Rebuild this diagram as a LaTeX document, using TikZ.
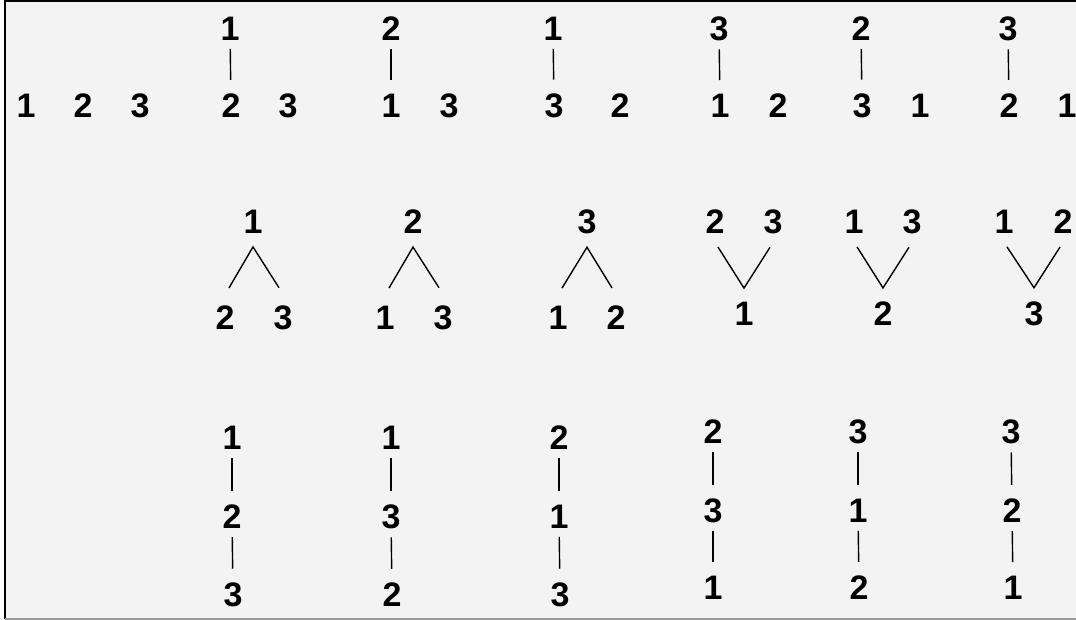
\documentclass[tikz,border=0pt]{standalone}
\usepackage{fontspec}
\setmainfont{Liberation Sans}
\usepackage{xcolor}
\definecolor{paper}{HTML}{F3F3F3}
\tikzset{
  num/.style  ={font=\fontsize{34}{34}\selectfont\bfseries, inner sep=0pt},
  lnk/.style  ={line width=1.4pt, shorten <=8pt, shorten >=14pt},
  fork/.style ={line width=1.4pt, line join=miter},
  frame/.style={line width=2pt},
}

\begin{document}
\begin{tikzpicture}[x=1pt, y=-1pt]
  \useasboundingbox (0,0) rectangle (1076,620);
  \fill[paper] (5,1.5) rectangle (1076,618);
  \draw[frame] (5,619) -- (5,1.5) -- (1076,1.5);
  \draw[frame, black!40] (5,618.5) -- (1076,618.5);

  \node[num] (a1) at (26,106) {1};
  \node[num] (a2) at (83,106) {2};
  \node[num] (a3) at (140,106) {3};

  \node[num] (p2t) at (230,29) {1};
  \node[num] (p2b) at (231,106) {2};
  \node[num] (p2s) at (288,106) {3};
  \draw[lnk] (p2t) -- (p2b);
  \node[num] (p3t) at (391,29) {2};
  \node[num] (p3b) at (391,106) {1};
  \node[num] (p3s) at (449,106) {3};
  \draw[lnk] (p3t) -- (p3b);
  \node[num] (p4t) at (553,29) {1};
  \node[num] (p4b) at (554,106) {3};
  \node[num] (p4s) at (620,106) {2};
  \draw[lnk] (p4t) -- (p4b);
  \node[num] (p5t) at (719,29) {3};
  \node[num] (p5b) at (720,106) {1};
  \node[num] (p5s) at (778,106) {2};
  \draw[lnk] (p5t) -- (p5b);
  \node[num] (p6t) at (861,29) {2};
  \node[num] (p6b) at (862,106) {3};
  \node[num] (p6s) at (920,106) {1};
  \draw[lnk] (p6t) -- (p6b);
  \node[num] (p7t) at (1008,29) {3};
  \node[num] (p7b) at (1009,106) {2};
  \node[num] (p7s) at (1067,106) {1};
  \draw[lnk] (p7t) -- (p7b);

  \node[num] (m1t) at (253,222) {1};
  \node[num] (m1l) at (225,318) {2};
  \node[num] (m1r) at (283,318) {3};
  \draw[fork] ([shift={(4pt,18pt)}]m1l.north) -- ([yshift=-13pt]m1t.south)
    -- ([shift={(-4pt,18pt)}]m1r.north);
  \node[num] (m2t) at (413,222) {2};
  \node[num] (m2l) at (385,318) {1};
  \node[num] (m2r) at (443,318) {3};
  \draw[fork] ([shift={(4pt,18pt)}]m2l.north) -- ([yshift=-13pt]m2t.south)
    -- ([shift={(-4pt,18pt)}]m2r.north);
  \node[num] (m3t) at (587,222) {3};
  \node[num] (m3l) at (558,318) {1};
  \node[num] (m3r) at (616,318) {2};
  \draw[fork] ([shift={(4pt,18pt)}]m3l.north) -- ([yshift=-13pt]m3t.south)
    -- ([shift={(-4pt,18pt)}]m3r.north);

  \node[num] (w1l) at (715,222) {2};
  \node[num] (w1r) at (773,222) {3};
  \node[num] (w1b) at (744,314) {1};
  \draw[fork] ([shift={(3pt,-13pt)}]w1l.south) -- ([yshift=14pt]w1b.north)
    -- ([shift={(-3pt,-13pt)}]w1r.south);
  \node[num] (w2l) at (854,222) {1};
  \node[num] (w2r) at (912,222) {3};
  \node[num] (w2b) at (883,314) {2};
  \draw[fork] ([shift={(3pt,-13pt)}]w2l.south) -- ([yshift=14pt]w2b.north)
    -- ([shift={(-3pt,-13pt)}]w2r.south);
  \node[num] (w3l) at (1004,222) {1};
  \node[num] (w3r) at (1063,222) {2};
  \node[num] (w3b) at (1034,314) {3};
  \draw[fork] ([shift={(3pt,-13pt)}]w3l.south) -- ([yshift=14pt]w3b.north)
    -- ([shift={(-3pt,-13pt)}]w3r.south);

  \node[num] (c1a) at (232,438) {1};
  \node[num] (c1b) at (232,517) {2};
  \node[num] (c1c) at (233,595) {3};
  \draw[lnk] (c1a) -- (c1b);
  \draw[lnk] (c1b) -- (c1c);
  \node[num] (c2a) at (391,438) {1};
  \node[num] (c2b) at (391,517) {3};
  \node[num] (c2c) at (392,595) {2};
  \draw[lnk] (c2a) -- (c2b);
  \draw[lnk] (c2b) -- (c2c);
  \node[num] (c3a) at (559,438) {2};
  \node[num] (c3b) at (559,517) {1};
  \node[num] (c3c) at (560,595) {3};
  \draw[lnk] (c3a) -- (c3b);
  \draw[lnk] (c3b) -- (c3c);
  \node[num] (c4a) at (713,432) {2};
  \node[num] (c4b) at (713,511) {3};
  \node[num] (c4c) at (713,588) {1};
  \draw[lnk] (c4a) -- (c4b);
  \draw[lnk] (c4b) -- (c4c);
  \node[num] (c5a) at (858,432) {3};
  \node[num] (c5b) at (858,511) {1};
  \node[num] (c5c) at (859,588) {2};
  \draw[lnk] (c5a) -- (c5b);
  \draw[lnk] (c5b) -- (c5c);
  \node[num] (c6a) at (1011,432) {3};
  \node[num] (c6b) at (1012,511) {2};
  \node[num] (c6c) at (1013,588) {1};
  \draw[lnk] (c6a) -- (c6b);
  \draw[lnk] (c6b) -- (c6c);
\end{tikzpicture}
\end{document}
